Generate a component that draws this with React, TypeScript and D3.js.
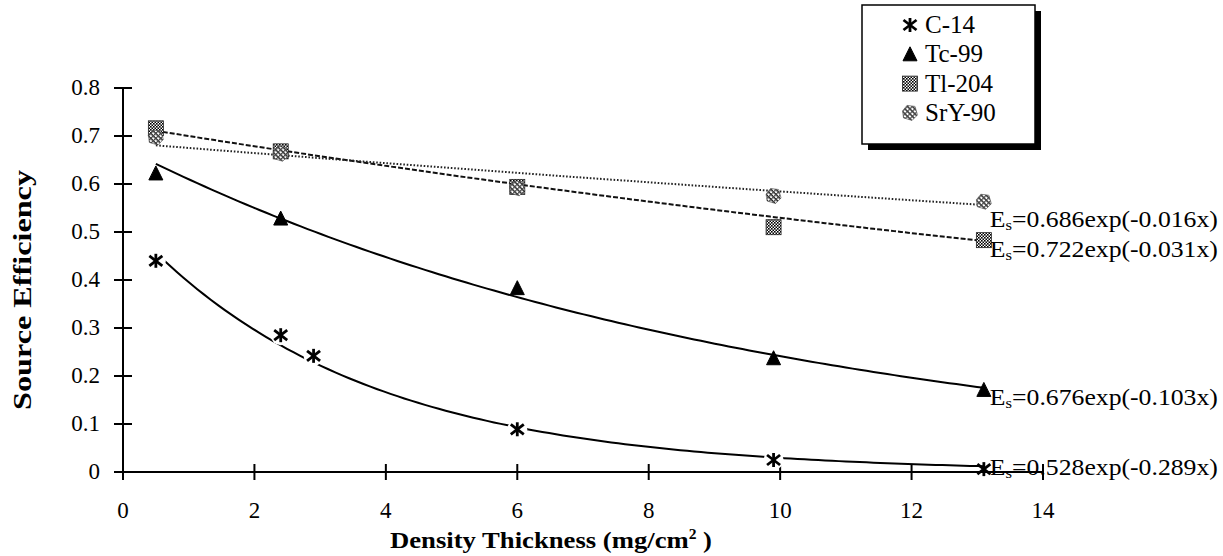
import React from "react";
import * as d3 from "d3";

// Measured source efficiency against density thickness for four beta emitters
const seriesNames = ["C-14", "Tc-99", "Tl-204", "SrY-90"];

const c14Thickness = [0.5, 2.4, 2.9, 6, 9.9, 13.1];
const c14Efficiency = [0.44, 0.285, 0.242, 0.089, 0.025, 0.006];

const tc99Thickness = [0.5, 2.4, 6, 9.9, 13.1];
const tc99Efficiency = [0.622, 0.528, 0.383, 0.237, 0.171];

const tl204Thickness = [0.5, 2.4, 6, 9.9, 13.1];
const tl204Efficiency = [0.716, 0.668, 0.594, 0.51, 0.483];

const sry90Thickness = [0.5, 2.4, 6, 9.9, 13.1];
const sry90Efficiency = [0.697, 0.663, 0.591, 0.575, 0.563];

// Exponential fits Es = A * exp(-k x)
const fitA = [0.528, 0.676, 0.722, 0.686];
const fitK = [0.289, 0.103, 0.031, 0.016];
const fitLabels = [
  "0.528exp(-0.289x)",
  "0.676exp(-0.103x)",
  "0.722exp(-0.031x)",
  "0.686exp(-0.016x)",
];

const xTicks = [0, 2, 4, 6, 8, 10, 12, 14];
const yTicks = [0, 0.1, 0.2, 0.3, 0.4, 0.5, 0.6, 0.7, 0.8];

const W = 1223;
const H = 556;
const FONT = "'Liberation Serif', 'Times New Roman', Times, serif";

type Kind = "star" | "tri" | "square" | "diamond";

const styles: { kind: Kind; dash?: string; color: string; labelDy: number }[] = [
  { kind: "star", color: "#000", labelDy: 6 },
  { kind: "tri", color: "#000", labelDy: 15 },
  { kind: "square", dash: "5 2", color: "#111", labelDy: 17 },
  { kind: "diamond", dash: "1.6 1.8", color: "#222", labelDy: 25 },
];

function Marker({ kind, cx, cy }: { kind: Kind; cx: number; cy: number }) {
  if (kind === "star") {
    return (
      <g transform={`translate(${cx},${cy})`} stroke="#000" strokeWidth={2.8} strokeLinecap="butt">
        <line x1={-6.5} y1={-5} x2={6.5} y2={5} />
        <line x1={-6.5} y1={5} x2={6.5} y2={-5} />
        <line x1={0} y1={-7} x2={0} y2={7} />
      </g>
    );
  }
  if (kind === "tri") {
    return (
      <path
        transform={`translate(${cx},${cy})`}
        d="M0,-7.5 L7,6.5 L-7,6.5 Z"
        fill="#000"
        stroke="#000"
        strokeWidth={1}
        strokeLinejoin="round"
      />
    );
  }
  if (kind === "square") {
    return (
      <rect x={cx - 7.5} y={cy - 7.5} width={15} height={15} fill="url(#checker)" stroke="#222" strokeWidth={0.8} />
    );
  }
  return (
    <path
      transform={`translate(${cx},${cy})`}
      d="M-3,-7.5 L5,-6.5 L7.5,2 L2,7.5 L-6.5,5 L-7.5,-2 Z"
      fill="url(#hatch)"
      stroke="#444"
      strokeWidth={0.6}
    />
  );
}

export default function App() {
  const x = d3.scaleLinear().domain([0, 14]).range([123, 1043]);
  const y = d3.scaleLinear().domain([0, 0.8]).range([472, 88]);

  const allX = [c14Thickness, tc99Thickness, tl204Thickness, sry90Thickness];
  const allY = [c14Efficiency, tc99Efficiency, tl204Efficiency, sry90Efficiency];

  const line = d3.line<number>().x((t) => x(t));

  const fitPaths = fitA.map((a, i) => {
    const xs = allX[i];
    const lo = xs[0];
    const hi = xs[xs.length - 1];
    const samples = d3.range(lo, hi + 1e-9, (hi - lo) / 120);
    return line.y((t) => y(a * Math.exp(-fitK[i] * t)))(samples) || "";
  });

  const xEnd = x(13.1);

  const legendX = 862;
  const legendY = 5;
  const legendW = 173;
  const legendH = 139;

  const txt = { fontFamily: FONT };

  return (
    <svg
      width={W}
      height={H}
      style={{ position: "absolute", left: 0, top: 0, background: "#fff", fontFamily: FONT }}
    >
      <defs>
        <pattern id="checker" width={3} height={3} patternUnits="userSpaceOnUse">
          <rect width={3} height={3} fill="#fff" />
          <rect width={1.6} height={1.6} fill="#000" />
          <rect x={1.5} y={1.5} width={1.5} height={1.5} fill="#000" />
        </pattern>
        <pattern id="hatch" width={3.5} height={3.5} patternUnits="userSpaceOnUse" patternTransform="rotate(45)">
          <rect width={3.5} height={3.5} fill="#fff" />
          <rect width={3.5} height={1.4} fill="#222" />
          <rect width={1.2} height={3.5} fill="#444" />
        </pattern>
      </defs>

      {/* fitted curves */}
      {fitPaths.map((p, i) => (
        <path
          key={`fit-${i}`}
          d={p}
          fill="none"
          stroke={styles[i].color}
          strokeWidth={2}
          strokeDasharray={styles[i].dash}
        />
      ))}

      {/* axes */}
      <g stroke="#000" strokeWidth={2}>
        <line x1={x(0)} x2={x(0)} y1={y(0)} y2={y(0.8)} />
        <line x1={x(0)} x2={x(14)} y1={y(0)} y2={y(0)} />
        {yTicks.map((t) => (
          <line key={`yt-${t}`} x1={x(0) - 9} x2={x(0) + 9} y1={y(t)} y2={y(t)} />
        ))}
        {xTicks.map((t) => (
          <line key={`xt-${t}`} x1={x(t)} x2={x(t)} y1={y(0) - 8} y2={y(0) + 8} />
        ))}
      </g>

      {yTicks.map((t) => (
        <text key={`yl-${t}`} x={100} y={y(t) + 7} textAnchor="end" fontSize={23} fill="#000" style={txt}>
          {t === 0 ? "0" : t.toFixed(1)}
        </text>
      ))}
      {xTicks.map((t) => (
        <text key={`xl-${t}`} x={x(t)} y={518} textAnchor="middle" fontSize={23} fill="#000" style={txt}>
          {t}
        </text>
      ))}

      {/* data markers */}
      {allX.map((xs, i) =>
        xs.map((t, j) => {
          const cx = x(t);
          const cy = y(allY[i][j]);
          return (
            <g key={`m-${i}-${j}`}>
              {styles[i].kind === "star" && j < xs.length - 1 && <circle cx={cx} cy={cy} r={10} fill="#fff" />}
              <Marker kind={styles[i].kind} cx={cx} cy={cy} />
            </g>
          );
        })
      )}

      {/* fit equations */}
      {fitLabels.map((lab, i) => {
        const yv = allY[i][allY[i].length - 1];
        return (
          <text
            key={`eq-${i}`}
            x={xEnd + 6}
            y={y(yv) + styles[i].labelDy}
            fontSize={23}
            fill="#000"
            style={txt}
            textLength={228}
            lengthAdjust="spacingAndGlyphs"
          >
            E<tspan fontSize={15} dy={3}>s</tspan>
            <tspan dy={-3}>={lab}</tspan>
          </text>
        );
      })}

      {/* axis titles */}
      <text
        x={551}
        y={548}
        textAnchor="middle"
        fontSize={24}
        fontWeight="bold"
        fill="#000"
        style={txt}
        textLength={322}
        lengthAdjust="spacingAndGlyphs"
      >
        Density Thickness (mg/cm<tspan fontSize={14} dy={-9}>2</tspan>
        <tspan dy={9}> )</tspan>
      </text>
      <text
        transform="translate(31,290) rotate(-90)"
        textAnchor="middle"
        fontSize={26}
        fontWeight="bold"
        fill="#000"
        style={txt}
        textLength={240}
        lengthAdjust="spacingAndGlyphs"
      >
        Source Efficiency
      </text>

      {/* legend */}
      <rect x={legendX + 6} y={legendY + 6} width={legendW} height={legendH} fill="#000" />
      <rect x={legendX} y={legendY} width={legendW} height={legendH} fill="#fff" stroke="#000" strokeWidth={1.5} />
      {seriesNames.map((name, i) => {
        const cy = 25 + i * 29.3;
        return (
          <g key={`lg-${i}`}>
            <Marker kind={styles[i].kind} cx={910} cy={cy} />
            <text x={925} y={cy + 8} fontSize={25} fill="#000" style={txt}>
              {name}
            </text>
          </g>
        );
      })}
    </svg>
  );
}
